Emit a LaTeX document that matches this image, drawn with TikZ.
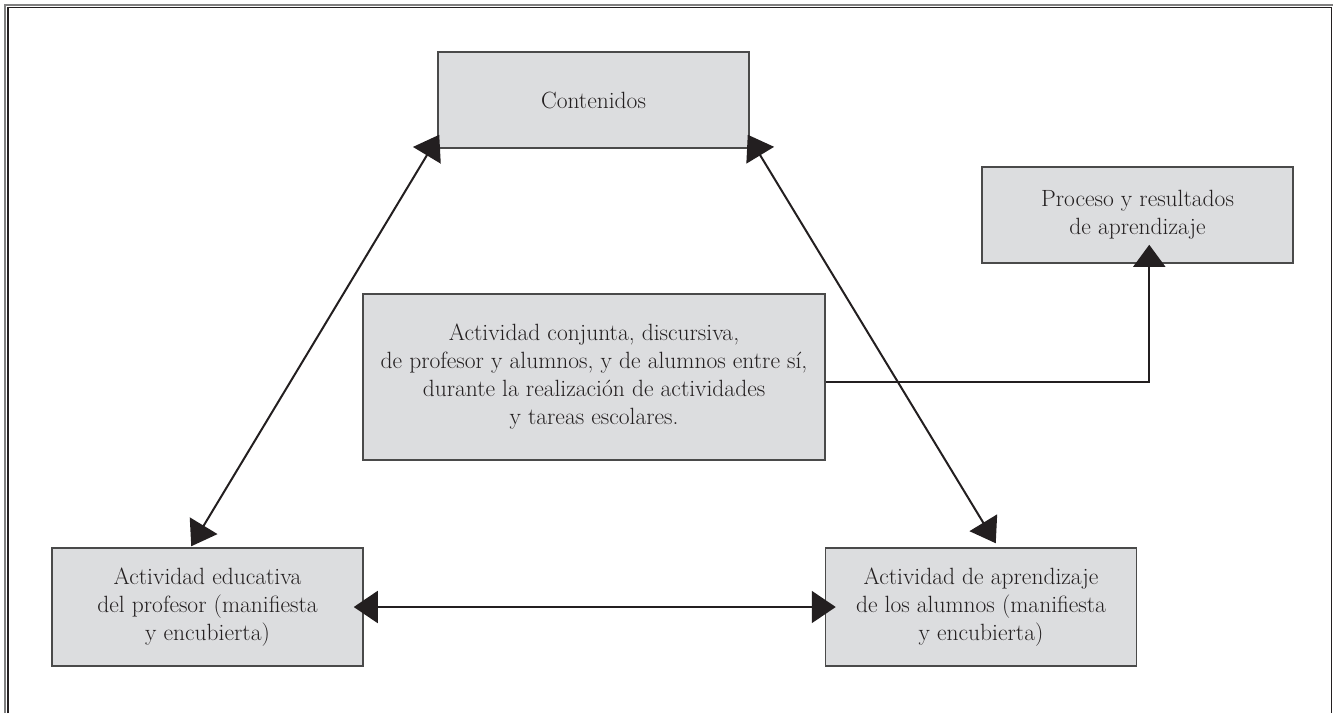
\documentclass[tikz,border=0pt]{standalone}
\usepackage{fontspec}
\usetikzlibrary{arrows.meta,calc}
\definecolor{boxfill}{HTML}{DCDDDF}
\definecolor{boxline}{HTML}{4A4A4A}
\definecolor{ink}{HTML}{231F20}
\tikzset{
  box/.style={draw=boxline, line width=1.5pt, fill=boxfill, text=ink, align=center,
    inner sep=0pt, font=\fontsize{23.5}{28}\selectfont},
  conn/.style={draw=ink, line width=2pt, {Triangle[length=24pt,width=32pt]}-{Triangle[length=24pt,width=32pt]}},
  oneway/.style={draw=ink, line width=1.6pt, -{Triangle[length=22pt,width=32pt]}}
}
\begin{document}
\begin{tikzpicture}[x=1pt,y=-1pt]
\useasboundingbox (0,0) rectangle (1333,713);
% frame
\draw[gray, line width=2pt] (5,713) -- (5,5) -- (1333,5);
\draw[ink, line width=1.2pt] (8,713) -- (8,7.5) -- (1331.5,7.5) -- (1331.5,713);
% boxes
\node[box, minimum width=311pt, minimum height=96pt] (C) at (593.5,100) {Contenidos};
\node[box, minimum width=311pt, minimum height=96pt] (P) at (1137.5,215) {Proceso y resultados\\de aprendizaje};
\node[box, minimum width=462pt, minimum height=166pt] (M) at (594,377) {Actividad conjunta, discursiva,\\de profesor y alumnos, y de alumnos entre sí,\\durante la realización de actividades\\y tareas escolares.};
\node[box, minimum width=311pt, minimum height=118pt] (L) at (207.5,607) {Actividad educativa\\del profesor (manifiesta\\y encubierta)};
\node[box, minimum width=311pt, minimum height=118pt] (R) at (981,607) {Actividad de aprendizaje\\de los alumnos (manifiesta\\y encubierta)};
% connector end points
\coordinate (c1) at ($(C.south west)+(2,-14)$);
\coordinate (c2) at ($(C.south east)+(-2,-14)$);
\coordinate (l1) at ($(L.north west)+(140,-1)$);
\coordinate (r1) at ($(R.north west)+(171,-4)$);
\coordinate (m1) at ($(M.east)+(0,5)$);
\coordinate (p1) at ($(P.south west)+(168,0)$);
% connectors
\draw[conn] (l1) -- (c1);
\draw[conn] (c2) -- (r1);
\draw[conn, shorten <=-10pt, shorten >=-11pt] (L.east) -- (R.west);
\draw[oneway, shorten >=-19pt] (m1) -| (p1);
\end{tikzpicture}
\end{document}
